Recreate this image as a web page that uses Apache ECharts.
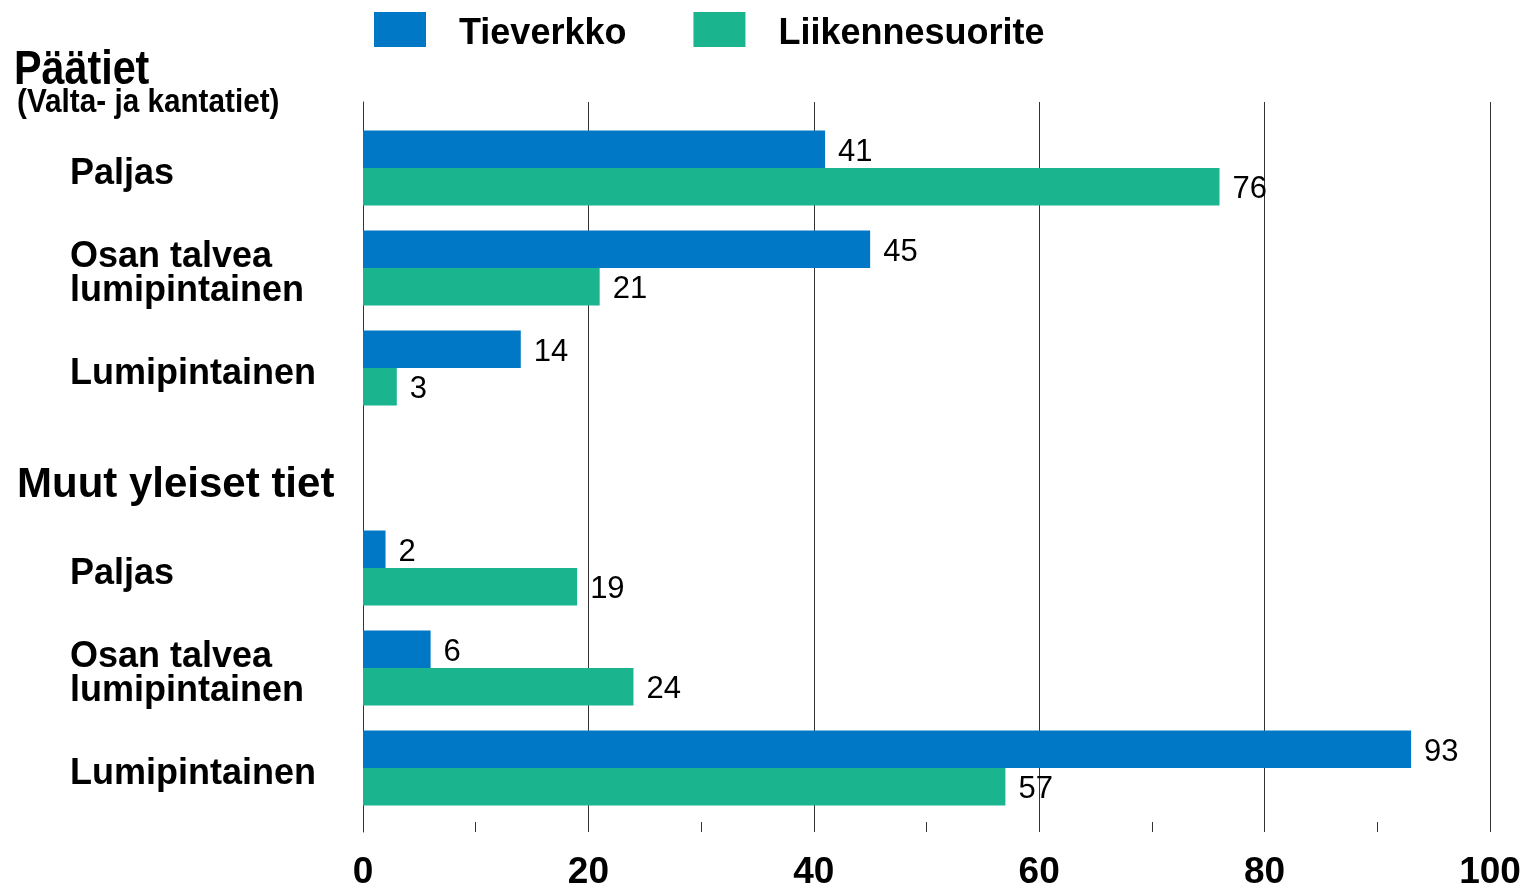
<!DOCTYPE html>
<html>
<head>
<meta charset="utf-8">
<script src="https://cdn.jsdelivr.net/npm/echarts@6/dist/echarts.min.js"></script>
<style>
  html, body { margin: 0; padding: 0; background: #fff; }
  #chart { width: 1530px; height: 891px; }
</style>
</head>
<body>
<div id="chart"></div>
<script>
var categories = ['Paljas', 'Osan talvea\nlumipintainen', 'Lumipintainen', '', 'Paljas', 'Osan talvea\nlumipintainen', 'Lumipintainen'];
var tieverkko = [41, 45, 14, '-', 2, 6, 93];
var liikennesuorite = [76, 21, 3, '-', 19, 24, 57];
var seriesNames = ['Tieverkko', 'Liikennesuorite'];
var groupTitles = ['Päätiet', '(Valta- ja kantatiet)', 'Muut yleiset tiet'];

var chart = echarts.init(document.getElementById('chart'), null, { renderer: 'canvas' });

var sans = '"Liberation Sans", Arial, sans-serif';

var labelStyle = {
    show: true,
    position: 'right',
    distance: 13,
    offset: [0, 3],
    fontFamily: sans,
    fontSize: 31,
    color: '#000'
};

var option = {
    animation: false,
    legend: {
        left: 369,
        top: 7,
        itemWidth: 52,
        itemHeight: 35,
        itemGap: 67,
        icon: 'rect',
        formatter: function (name) {
            return '{t|' + name + '}';
        },
        textStyle: {
            padding: [0, 0, 0, 28],
            rich: {
                t: {
                    fontFamily: sans,
                    fontWeight: 'bold',
                    fontSize: 36,
                    color: '#000',
                    padding: [10, 0, 0, 0]
                }
            }
        },
        data: seriesNames
    },
    grid: [
        { left: 363, right: 40, top: 118, bottom: 73 },
        { left: 363, right: 40, top: 102, bottom: 56 },
        // same rows as grid 0, nudged down a little for the row names
        { left: 363, right: 40, top: 124, bottom: 67 }
    ],
    xAxis: [
        { gridIndex: 0, type: 'value', min: 0, max: 100, show: false },
        {
            gridIndex: 1, type: 'value', min: 0, max: 100, interval: 20,
            axisLine: { show: false },
            axisTick: { show: true, inside: true, length: 10, lineStyle: { color: '#333' } },
            minorTick: { show: true, splitNumber: 2, length: 10, lineStyle: { color: '#333' } },
            splitLine: { show: true, lineStyle: { color: '#333', width: 1 } },
            axisLabel: {
                margin: 22,
                fontFamily: sans,
                fontWeight: 'bold',
                fontSize: 37,
                color: '#000'
            }
        },
        { gridIndex: 2, type: 'value', min: 0, max: 100, show: false }
    ],
    yAxis: [
        {
            gridIndex: 0, type: 'category', inverse: true, data: categories,
            show: false
        },
        {
            gridIndex: 1, type: 'value', min: 0, max: 1,
            axisLine: { show: true, lineStyle: { color: '#333' } },
            axisTick: { show: false },
            axisLabel: { show: false },
            splitLine: { show: false }
        },
        {
            gridIndex: 2,
            type: 'category',
            inverse: true,
            data: categories,
            axisLine: { show: false },
            axisTick: { show: false },
            axisLabel: {
                align: 'left',
                margin: 293,
                fontFamily: sans,
                fontWeight: 'bold',
                fontSize: 36,
                lineHeight: 34,
                color: '#000'
            }
        }
    ],
    graphic: [
        { type: 'text', left: 14, top: 47, scaleX: 0.86, style: { text: groupTitles[0], fontFamily: sans, fontWeight: 'bold', fontSize: 48, fill: '#000' } },
        { type: 'text', left: 17, top: 86, scaleX: 0.9, style: { text: groupTitles[1], fontFamily: sans, fontWeight: 'bold', fontSize: 33, fill: '#000' } },
        { type: 'text', left: 17, top: 464, style: { text: groupTitles[2], fontFamily: sans, fontWeight: 'bold', fontSize: 42, fill: '#000' } }
    ],
    series: [
        {
            name: seriesNames[0],
            type: 'bar',
            xAxisIndex: 0,
            yAxisIndex: 0,
            barGap: '0%',
            barCategoryGap: '25%',
            itemStyle: { color: '#0078C6' },
            label: labelStyle,
            data: tieverkko
        },
        {
            name: seriesNames[1],
            type: 'bar',
            xAxisIndex: 0,
            yAxisIndex: 0,
            barGap: '0%',
            barCategoryGap: '25%',
            itemStyle: { color: '#1AB48F' },
            label: labelStyle,
            data: liikennesuorite
        }
    ]
};

chart.setOption(option);
window.addEventListener('resize', chart.resize);
</script>
</body>
</html>
